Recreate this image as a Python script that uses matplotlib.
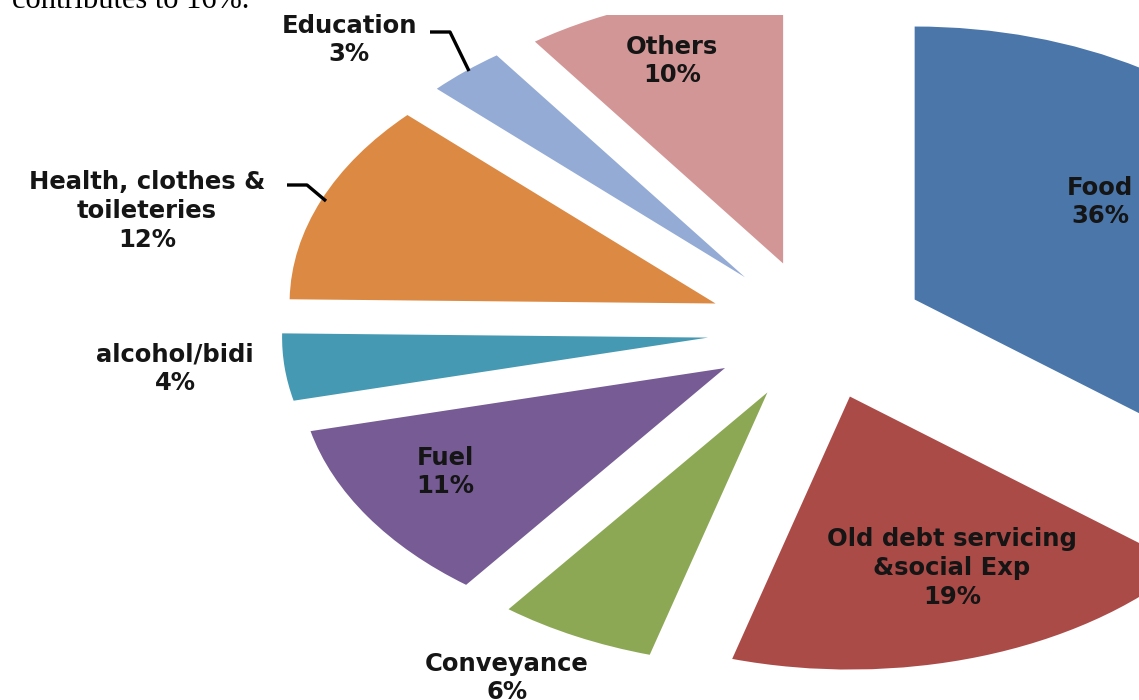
import matplotlib
matplotlib.use("Agg")
import matplotlib.pyplot as plt

# ---- data ----
categories = ["Food", "Old debt servicing\n&social Exp", "Conveyance", "Fuel",
              "alcohol/bidi", "Health, clothes &\ntoileteries", "Education", "Others"]
values = [36, 19, 6, 11, 4, 12, 3, 10]
colors = ["#4A76AA", "#AB4B48", "#8CA855", "#765B94",
          "#4599B2", "#DB8943", "#94ABD5", "#D39696"]

W, H = 1139, 700
fig = plt.figure(figsize=(W / 100, H / 100), dpi=100)

# pixel layout of the (stretched, clipped) pie
CX, CY, RX, RY = 816.5, 330.0, 426.0, 273.0
TOP = 15  # pie area clipped at this pixel row

ax = fig.add_axes([0, 0, 1, (H - TOP) / H])
wedges, _ = ax.pie(values, explode=[0.256] * len(values), startangle=90, counterclock=False,
                   colors=colors, radius=1, center=(0, 0), wedgeprops=dict(linewidth=0))
ax.set_aspect("auto")
ax.set_xlim((0 - CX) / RX, (W - CX) / RX)
ax.set_ylim((CY - H) / RY, (CY - TOP) / RY)
ax.axis("off")
for w in wedges:
    w.set_clip_on(True)
    w.set_clip_path(ax.patch)


def d(px, py):
    return (px - CX) / RX, (CY - py) / RY


font = dict(family=["DejaVu Sans"], fontweight="bold", fontsize=17.5,
            color="#151515", ha="center", va="center", linespacing=1.25,
            clip_on=False)

labels = [f"{c}\n{v}%" for c, v in zip(categories, values)]
label_px = [(1100, 202), (952, 568), (507, 678), (445, 472),
            (175, 369), (147, 211), (349, 40), (672, 61)]
for lab, (px, py) in zip(labels, label_px):
    ax.text(*d(px, py), lab, **font)

# leader lines (Education, Health)
for pts in [[(430, 32), (450, 32), (469, 71)], [(287, 185), (307, 185), (326, 201)]]:
    xs, ys = zip(*[d(*p) for p in pts])
    ax.plot(xs, ys, color="black", lw=2.4, solid_capstyle="butt", clip_on=False)

fig.text(12 / W, 1 - 8 / H, "contributes to 16%.", family="Liberation Serif",
         fontsize=22, ha="left", va="baseline", color="black", zorder=6)

fig.savefig("out.png", dpi=100)
